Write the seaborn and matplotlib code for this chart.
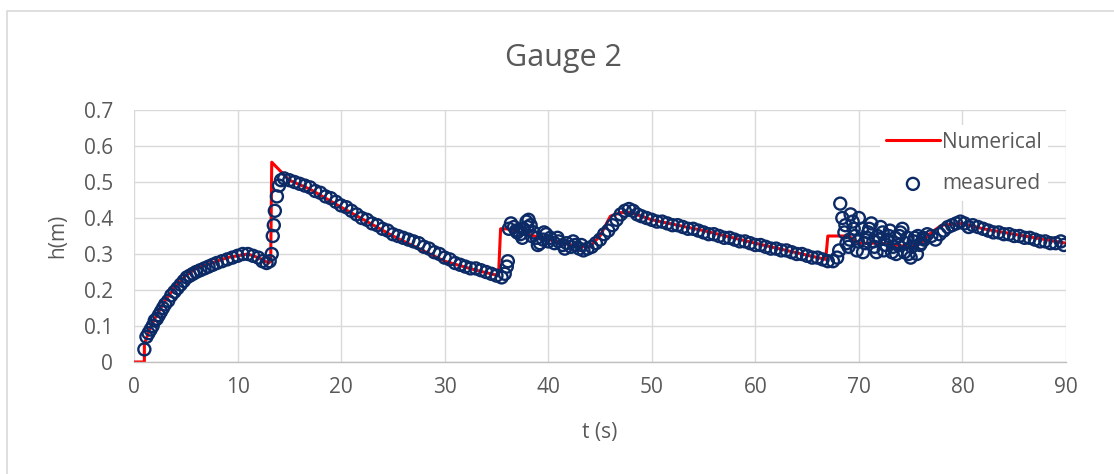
import matplotlib
matplotlib.use("Agg")
import matplotlib.pyplot as plt
from matplotlib.patches import Rectangle
import seaborn as sns
import pandas as pd

# ---- data ----
num_t = [0, 1.0, 1.0, 1.5, 2, 3, 4, 5, 6, 7, 8, 9, 10, 11, 12, 13, 13.2, 13.3,
         15, 17, 20, 25, 30, 33, 35.2, 35.4, 36, 38, 40, 43, 44, 45, 46, 47, 48,
         50, 55, 60, 63, 66.8, 67.0, 68, 69, 70, 72, 75, 76, 77, 78, 80, 82, 85, 88, 90]
num_h = [0, 0, 0.05, 0.09, 0.12, 0.17, 0.21, 0.24, 0.26, 0.27, 0.28, 0.29, 0.295, 0.30, 0.29, 0.275, 0.28, 0.555,
         0.505, 0.48, 0.43, 0.35, 0.28, 0.255, 0.24, 0.37, 0.37, 0.355, 0.34, 0.32, 0.32, 0.35, 0.405, 0.415, 0.415,
         0.395, 0.365, 0.33, 0.31, 0.285, 0.35, 0.35, 0.35, 0.33, 0.33, 0.32, 0.33, 0.36, 0.38, 0.385, 0.37, 0.355, 0.34, 0.33]

meas_t = [1.0, 1.2, 1.4, 1.6, 1.8, 2.0, 2.2, 2.4, 2.6, 2.8, 3.0, 3.3, 3.6, 3.9, 4.2, 4.5, 4.8, 5.1, 5.4, 5.7,
          6.0, 6.4, 6.8, 7.2, 7.6, 8.0, 8.5, 9.0, 9.5, 10.0, 10.5, 11.0, 11.5, 12.0, 12.4, 12.8, 13.1, 13.3, 13.4, 13.5,
          13.6, 13.8, 14.0, 14.2, 14.5, 15.0, 15.5, 16, 16.5, 17, 17.5, 18, 18.5, 19, 19.5, 20, 20.5, 21, 21.5, 22,
          22.5, 23, 23.5, 24, 24.5, 25, 25.5, 26, 26.5, 27, 27.5, 28, 28.5, 29, 29.5, 30, 30.5, 31, 31.5, 32,
          32.5, 33, 33.5, 34, 34.5, 35, 35.5, 35.8, 36.0, 36.1, 36.2, 36.4, 36.7, 37, 37.3, 37.6, 37.9, 38.1, 38.3, 38.6,
          38.9, 39.2, 39.5, 39.8, 40.2, 40.6, 41, 41.4, 41.8, 42.2, 42.6, 43, 43.4, 43.8, 44.2, 44.6, 45, 45.4, 45.8, 46.2,
          46.6, 47.0, 47.4, 47.8, 48.2, 48.6, 49, 49.5, 50, 50.5, 51, 51.5, 52, 52.5, 53, 53.5, 54, 54.5, 55, 55.5,
          56, 56.5, 57, 57.5, 58, 58.5, 59, 59.5, 60, 60.5, 61, 61.5, 62, 62.5, 63, 63.5, 64, 64.5, 65, 65.5,
          66, 66.5, 67, 67.5, 67.9, 68.1, 68.2, 68.4, 68.6, 68.8, 69.0, 69.2, 69.4, 69.6, 69.8, 70.0, 70.3, 70.6, 70.9, 71.2,
          71.5, 71.8, 72.1, 72.4, 72.7, 73.0, 73.3, 73.6, 73.9, 74.2, 74.5, 74.8, 75.1, 75.4, 75.7, 76.0, 76.3, 76.6, 77, 77.4,
          77.8, 78.2, 78.6, 79, 79.4, 79.8, 80.2, 80.6, 81, 81.5, 82, 82.5, 83, 83.5, 84, 84.5, 85, 85.5, 86, 86.5,
          87, 87.5, 88, 88.5, 89, 89.5, 89.8,
          # extra scattered samples in the turbulent stretches
          36.9, 37.5, 38.0, 38.4, 39.0, 39.6, 40.0, 40.9, 41.6, 42.4, 43.2,
          68.7, 69.1, 69.5, 69.9, 70.4, 70.8, 71.0, 71.4, 71.7, 72.0, 72.3, 72.6, 72.9, 73.2,
          73.5, 73.8, 74.0, 74.4, 74.7, 75.0, 75.3, 75.6, 75.9, 76.2]
meas_h = [0.035, 0.07, 0.08, 0.09, 0.10, 0.115, 0.12, 0.13, 0.14, 0.15, 0.16, 0.17, 0.185, 0.195, 0.205, 0.215, 0.225, 0.235, 0.24, 0.245,
          0.25, 0.255, 0.26, 0.265, 0.27, 0.275, 0.28, 0.285, 0.29, 0.295, 0.30, 0.30, 0.295, 0.29, 0.28, 0.275, 0.28, 0.30, 0.35, 0.38,
          0.42, 0.46, 0.49, 0.505, 0.51, 0.505, 0.50, 0.495, 0.49, 0.485, 0.475, 0.47, 0.46, 0.455, 0.445, 0.435, 0.43, 0.42, 0.41, 0.40,
          0.395, 0.385, 0.38, 0.37, 0.365, 0.355, 0.35, 0.345, 0.34, 0.335, 0.33, 0.32, 0.315, 0.305, 0.30, 0.29, 0.285, 0.275, 0.27, 0.265,
          0.26, 0.26, 0.255, 0.25, 0.245, 0.24, 0.235, 0.245, 0.265, 0.28, 0.37, 0.385, 0.375, 0.36, 0.355, 0.37, 0.39, 0.395, 0.38, 0.36,
          0.345, 0.33, 0.34, 0.355, 0.345, 0.33, 0.335, 0.325, 0.33, 0.32, 0.325, 0.315, 0.31, 0.315, 0.32, 0.33, 0.34, 0.355, 0.365, 0.38,
          0.395, 0.41, 0.42, 0.425, 0.42, 0.41, 0.405, 0.40, 0.395, 0.39, 0.39, 0.385, 0.38, 0.38, 0.375, 0.37, 0.37, 0.365, 0.36, 0.355,
          0.355, 0.35, 0.345, 0.345, 0.34, 0.335, 0.335, 0.33, 0.325, 0.325, 0.32, 0.315, 0.315, 0.31, 0.31, 0.305, 0.30, 0.30, 0.295, 0.29,
          0.29, 0.285, 0.28, 0.28, 0.29, 0.31, 0.44, 0.40, 0.36, 0.33, 0.32, 0.41, 0.39, 0.35, 0.31, 0.40, 0.37, 0.33, 0.36, 0.385,
          0.32, 0.35, 0.375, 0.31, 0.34, 0.365, 0.32, 0.30, 0.35, 0.37, 0.33, 0.30, 0.32, 0.345, 0.35, 0.33, 0.34, 0.355, 0.35, 0.34,
          0.355, 0.365, 0.375, 0.38, 0.385, 0.39, 0.385, 0.375, 0.38, 0.375, 0.37, 0.365, 0.36, 0.36, 0.355, 0.355, 0.35, 0.35, 0.345, 0.345,
          0.34, 0.335, 0.335, 0.33, 0.33, 0.335, 0.325,
          0.365, 0.345, 0.375, 0.35, 0.325, 0.36, 0.335, 0.345, 0.315, 0.335, 0.325,
          0.38, 0.34, 0.37, 0.335, 0.305, 0.345, 0.37, 0.335, 0.305, 0.34, 0.36, 0.325, 0.35, 0.305,
          0.345, 0.325, 0.36, 0.305, 0.345, 0.29, 0.335, 0.30, 0.325, 0.345]

x_ticks = [0, 10, 20, 30, 40, 50, 60, 70, 80, 90]
y_ticks = [0, 0.1, 0.2, 0.3, 0.4, 0.5, 0.6, 0.7]
y_tick_labels = ["0", "0.1", "0.2", "0.3", "0.4", "0.5", "0.6", "0.7"]

num_df = pd.DataFrame({"t": num_t, "h": num_h})
meas_df = pd.DataFrame({"t": meas_t, "h": meas_h})

# ---- style ----
sns.set_style("whitegrid")
plt.rcParams["font.family"] = ["Open Sans", "DejaVu Sans"]
txt = "#595959"

fig = plt.figure(figsize=(11.14, 4.74), dpi=100)
ax = fig.add_axes([0.1203, 0.2363, 0.8366, 0.5316])

sns.lineplot(data=num_df, x="t", y="h", ax=ax, color="#FF0000", linewidth=2.2,
             label="Numerical", sort=False, estimator=None, zorder=2)
sns.scatterplot(data=meas_df, x="t", y="h", ax=ax, marker="o", s=75,
                facecolors="none", edgecolor="#0B2A66", linewidth=1.7,
                label="measured", zorder=3)

ax.set_xlim(0, 90)
ax.set_ylim(0, 0.7)
ax.set_xticks(x_ticks)
ax.set_xticklabels([str(v) for v in x_ticks])
ax.set_yticks(y_ticks)
ax.set_yticklabels(y_tick_labels)
ax.grid(True, color="#d9d9d9", linewidth=1.0)
ax.set_axisbelow(True)
for side in ["top", "right", "left"]:
    ax.spines[side].set_visible(False)
ax.spines["bottom"].set_color("#bfbfbf")
ax.spines["bottom"].set_linewidth(1.0)
ax.tick_params(axis="x", colors=txt, labelsize=15, length=0, pad=11)
ax.tick_params(axis="y", colors=txt, labelsize=15, length=0, pad=15)

ax.set_xlabel("t (s)", fontsize=15, color=txt, labelpad=17)
ax.set_ylabel("h(m)", fontsize=15, color=txt, labelpad=11)
fig.text(563 / 1114, (474 - 58) / 474, "Gauge 2", fontsize=22, color=txt,
         ha="center", va="center")

leg = ax.legend(loc="center left", bbox_to_anchor=(0.8, 0.79), frameon=True,
                fontsize=15, labelcolor=txt, handlelength=2.6, labelspacing=1.0,
                borderpad=0.3, handletextpad=0.1, borderaxespad=0)
leg.get_frame().set_facecolor("white")
leg.get_frame().set_edgecolor("none")
leg.get_frame().set_alpha(1.0)

# outer chart frame
fig.patches.append(Rectangle((7 / 1114, -0.1), 1.2, (474 - 11) / 474 + 0.1,
                             transform=fig.transFigure, fill=False,
                             edgecolor="#d9d9d9", linewidth=1.2))

fig.savefig("out.png", dpi=100)
